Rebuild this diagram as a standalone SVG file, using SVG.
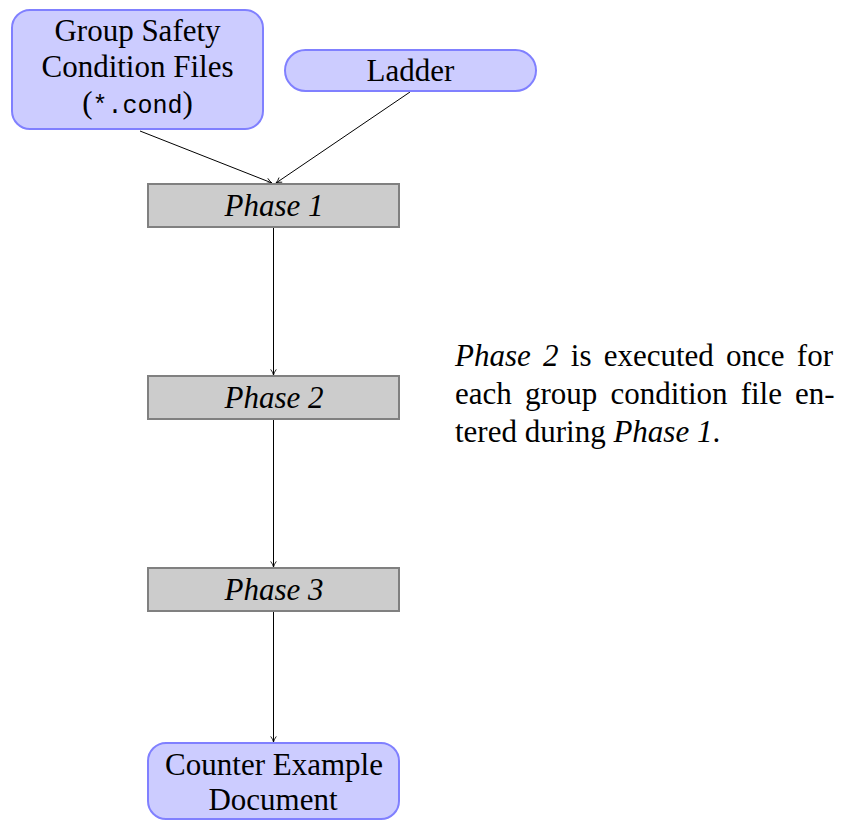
<svg xmlns="http://www.w3.org/2000/svg" width="842" height="820" viewBox="0 0 842 820">
  <defs>
    <marker id="tip" viewBox="0 0 10 10" refX="9" refY="5" markerWidth="7" markerHeight="7" orient="auto" markerUnits="userSpaceOnUse">
      <path d="M1,1 Q5,4 9,5 Q5,6 1,9" fill="none" stroke="#000" stroke-width="1.2"/>
    </marker>
  </defs>

  <!-- straight arrows between the steps -->
  <g id="connectors" stroke="#000" stroke-width="1" fill="none">
    <line marker-end="url(#tip)" x1="140" y1="131" x2="272" y2="183"/>
    <line marker-end="url(#tip)" x1="410" y1="92" x2="276" y2="183"/>
    <line marker-end="url(#tip)" x1="273.5" y1="227" x2="273.5" y2="375"/>
    <line marker-end="url(#tip)" x1="273.5" y1="419" x2="273.5" y2="567"/>
    <line marker-end="url(#tip)" x1="273.5" y1="611" x2="273.5" y2="742"/>
  </g>

  <g id="group-files">
    <rect x="12" y="10" width="251" height="119" rx="18" fill="#ccccff" stroke="#8080ff" stroke-width="2"/>
    <text style="font-family:'Liberation Serif',serif;font-size:31px" text-anchor="middle" x="137.5" y="41">Group Safety</text>
    <text style="font-family:'Liberation Serif',serif;font-size:31px" text-anchor="middle" x="137.5" y="77">Condition Files</text>
    <text style="font-family:'Liberation Serif',serif;font-size:31px" text-anchor="middle" x="137.5" y="113">(<tspan style="font-family:'Liberation Mono',monospace;font-size:25px">*.cond</tspan>)</text>
  </g>

  <g id="ladder">
    <rect x="285" y="50" width="251" height="41" rx="20.5" fill="#ccccff" stroke="#8080ff" stroke-width="2"/>
    <text style="font-family:'Liberation Serif',serif;font-size:31px" text-anchor="middle" x="410.5" y="81">Ladder</text>
  </g>

  <g id="phase1">
    <rect x="148" y="184" width="251" height="43" fill="#cccccc" stroke="#808080" stroke-width="2"/>
    <text style="font-family:'Liberation Serif',serif;font-size:31px;font-style:italic" text-anchor="middle" x="274" y="216">Phase 1</text>
  </g>

  <g id="phase2">
    <rect x="148" y="376" width="251" height="43" fill="#cccccc" stroke="#808080" stroke-width="2"/>
    <text style="font-family:'Liberation Serif',serif;font-size:31px;font-style:italic" text-anchor="middle" x="274" y="408">Phase 2</text>
  </g>

  <g id="phase3">
    <rect x="148" y="568" width="251" height="43" fill="#cccccc" stroke="#808080" stroke-width="2"/>
    <text style="font-family:'Liberation Serif',serif;font-size:31px;font-style:italic" text-anchor="middle" x="274" y="600">Phase 3</text>
  </g>

  <g id="counter-example">
    <rect x="148" y="743" width="251" height="76" rx="18" fill="#ccccff" stroke="#8080ff" stroke-width="2"/>
    <text style="font-family:'Liberation Serif',serif;font-size:31px" text-anchor="middle" x="274" y="775">Counter Example</text>
    <text style="font-family:'Liberation Serif',serif;font-size:31px" text-anchor="middle" x="273" y="810">Document</text>
  </g>

  <g id="note">
    <text style="font-family:'Liberation Serif',serif;font-size:31px;word-spacing:4.5px" x="455" y="366"><tspan style="font-style:italic">Phase 2</tspan> is executed once for</text>
    <text style="font-family:'Liberation Serif',serif;font-size:31px;word-spacing:5.4px" x="455" y="404">each group condition file en-</text>
    <text style="font-family:'Liberation Serif',serif;font-size:31px" x="455" y="442">tered during <tspan style="font-style:italic">Phase 1</tspan>.</text>
  </g>
</svg>
